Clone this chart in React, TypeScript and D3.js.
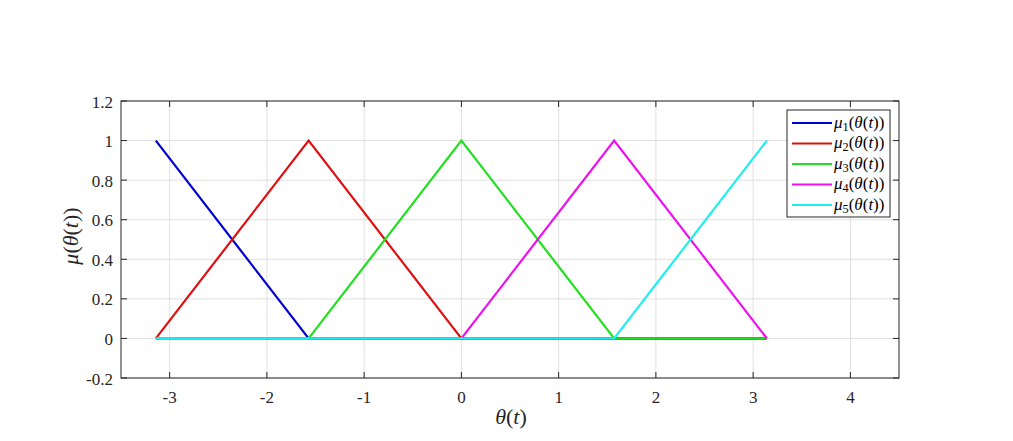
import React from "react";
import * as d3 from "d3";

const xPoints = [-3.1416, -1.5708, 0, 1.5708, 3.1416];
const mu1 = [1, 0, 0, 0, 0];
const mu2 = [0, 1, 0, 0, 0];
const mu3 = [0, 0, 1, 0, 0];
const mu4 = [0, 0, 0, 1, 0];
const mu5 = [0, 0, 0, 0, 1];
const seriesNames = ["1", "2", "3", "4", "5"];
const seriesColors = ["#0000d0", "#e01010", "#20e020", "#ee10ee", "#20eeee"];
const xTicks = [-3, -2, -1, 0, 1, 2, 3, 4];
const yTicks = [-0.2, 0, 0.2, 0.4, 0.6, 0.8, 1, 1.2];

const W = 1013, H = 441;
const L = 121, R = 899, T = 101, B = 378;
const font = "'Liberation Serif'";

function MathLabel({ sub, x, y, size }: { sub?: string; x: number; y: number; size: number }) {
  return (
    <text x={x} y={y} fontFamily={font} fontSize={size} fill="#000">
      <tspan fontStyle="italic">μ</tspan>
      <tspan fontSize={size * 0.72} dy={size * 0.2}>{sub}</tspan>
      <tspan dy={-size * 0.2}>(</tspan>
      <tspan fontStyle="italic">θ</tspan>
      <tspan>(</tspan>
      <tspan fontStyle="italic">t</tspan>
      <tspan>))</tspan>
    </text>
  );
}

export default function App() {
  const x = d3.scaleLinear().domain([-3.5, 4.5]).range([L, R]);
  const y = d3.scaleLinear().domain([-0.2, 1.2]).range([B, T]);
  const all = [mu1, mu2, mu3, mu4, mu5];
  const line = d3
    .line<[number, number]>()
    .x((d) => x(d[0]))
    .y((d) => y(d[1]));
  const legX = 787, legY = 110, legW = 103, legH = 107;
  return (
    <svg width={W} height={H} style={{ position: "absolute", left: 0, top: 0, background: "#fff" }}>
      <rect x={0} y={0} width={W} height={H} fill="#fff" />
      {xTicks.map((t) => (
        <line key={"gx" + t} x1={x(t)} x2={x(t)} y1={T} y2={B} stroke="#e0e0e0" strokeWidth={1} />
      ))}
      {yTicks.map((t) => (
        <line key={"gy" + t} x1={L} x2={R} y1={y(t)} y2={y(t)} stroke="#e0e0e0" strokeWidth={1} />
      ))}
      {all.map((s, i) => (
        <path
          key={"s" + i}
          d={line(xPoints.map((xv, j) => [xv, s[j]] as [number, number])) || ""}
          fill="none"
          stroke={seriesColors[i]}
          strokeWidth={2.2}
          strokeLinejoin="miter"
        />
      ))}
      <rect x={L} y={T} width={R - L} height={B - T} fill="none" stroke="#262626" strokeWidth={1} />
      {xTicks.map((t) => (
        <g key={"tx" + t}>
          <line x1={x(t)} x2={x(t)} y1={B} y2={B - 6} stroke="#262626" />
          <line x1={x(t)} x2={x(t)} y1={T} y2={T + 6} stroke="#262626" />
          <text x={x(t)} y={B + 25} textAnchor="middle" fontFamily={font} fontSize={17} fill="#262626">
            {t < 0 ? "-" + Math.abs(t) : t}
          </text>
        </g>
      ))}
      {yTicks.map((t) => (
        <g key={"ty" + t}>
          <line x1={L} x2={L + 6} y1={y(t)} y2={y(t)} stroke="#262626" />
          <line x1={R} x2={R - 6} y1={y(t)} y2={y(t)} stroke="#262626" />
          <text x={L - 8} y={y(t) + 6.5} textAnchor="end" fontFamily={font} fontSize={17} fill="#262626">
            {t < 0 ? "-" + Math.abs(t).toFixed(1) : t === 0 || t === 1 ? String(t) : t.toFixed(1)}
          </text>
        </g>
      ))}
      <text x={511} y={424} textAnchor="middle" fontFamily={font} fontSize={22} fill="#262626">
        <tspan fontStyle="italic">θ</tspan>
        <tspan>(</tspan>
        <tspan fontStyle="italic">t</tspan>
        <tspan>)</tspan>
      </text>
      <text
        transform={`translate(78,236) rotate(-90)`}
        textAnchor="middle"
        fontFamily={font}
        fontSize={22}
        fill="#262626"
      >
        <tspan fontStyle="italic">μ</tspan>
        <tspan>(</tspan>
        <tspan fontStyle="italic">θ</tspan>
        <tspan>(</tspan>
        <tspan fontStyle="italic">t</tspan>
        <tspan>))</tspan>
      </text>
      <rect x={legX} y={legY} width={legW} height={legH} fill="#fff" stroke="#262626" strokeWidth={1} />
      {seriesNames.map((n, i) => {
        const cy = legY + 13 + i * 20.5;
        return (
          <g key={"l" + n}>
            <line x1={792} x2={832} y1={cy} y2={cy} stroke={seriesColors[i]} strokeWidth={2.2} />
            <MathLabel sub={n} x={834} y={cy + 4.5} size={17} />
          </g>
        );
      })}
    </svg>
  );
}
